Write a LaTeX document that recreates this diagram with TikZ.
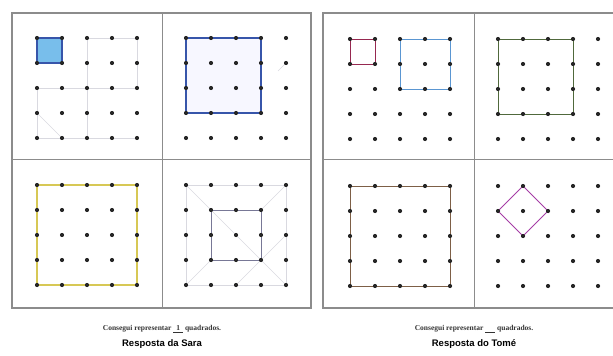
\documentclass[tikz,border=0pt]{standalone}
\usepackage{fontspec}
\setmainfont{Liberation Serif}
\newfontfamily\labelfont{Liberation Sans}
\usetikzlibrary{backgrounds}
\definecolor{penblue}{RGB}{55,85,170}
\definecolor{skyfill}{RGB}{120,190,235}
\definecolor{penyellow}{RGB}{215,200,85}
\definecolor{pengrey}{RGB}{120,120,150}
\definecolor{penpink}{RGB}{150,40,80}
\definecolor{penlight}{RGB}{90,150,210}
\definecolor{pengreen}{RGB}{80,105,60}
\definecolor{penbrown}{RGB}{125,95,70}
\definecolor{penviolet}{RGB}{165,60,165}
\tikzset{
 gdot/.style={circle, fill=black!85, inner sep=0pt, minimum size=4.2pt},
 panel/.style={draw=black!45, line width=1.2pt},
 cellline/.style={draw=black!45, line width=0.8pt},
 pencil/.style={draw=blue!20!black!15, line width=0.5pt},
 caption/.style={font=\fontsize{7.5}{8.5}\selectfont\bfseries, text=black!80},
 answer/.style={font=\labelfont\fontsize{9.5}{11}\selectfont\bfseries},
}
\newcommand{\dotgrid}[3]{%
 \foreach \i in {1,...,5}
  \foreach \j in {1,...,5}
   \node[gdot] (#1-\i-\j) at ({#2+25*(\i-1)},{#3+25*(\j-1)}){};
}
\begin{document}
\begin{tikzpicture}[x=1pt,y=-1pt]
\useasboundingbox (0,0) rectangle (613,356);
\clip (0,0) rectangle (613,356);

\draw[panel] (12,13) rectangle (311,308);
\draw[cellline] (162,13) -- (162,308);
\draw[cellline] (12,159) -- (311,159);
\draw[panel] (323,13) rectangle (625,308);
\draw[cellline] (474,13) -- (474,308);
\draw[cellline] (323,159) -- (625,159);

\dotgrid{sa}{37}{38}
\dotgrid{sb}{186}{38}
\dotgrid{sc}{37}{185}
\dotgrid{sd}{186}{185}
\dotgrid{ta}{350}{39}
\dotgrid{tb}{498}{39}
\dotgrid{tc}{350}{186}
\dotgrid{td}{498}{186}

\begin{scope}[on background layer]
\draw[pencil] (sa-3-1.center) -- (sa-5-1.center) -- (sa-5-3.center);
\draw[pencil] (sa-3-1.center) -- (sa-3-5.center);
\draw[pencil] (sa-1-3.center) -- (sa-5-3.center);
\draw[pencil] (sa-1-3.center) -- (sa-1-5.center) -- (sa-5-5.center);
\draw[pencil] (sa-1-4.center) -- (sa-2-5.center);
\draw[draw=penblue, fill=skyfill, line width=1.1pt] (sa-1-1.center) -- (sa-2-1.center) -- (sa-2-2.center) -- (sa-1-2.center) -- cycle;

\draw[draw=penblue, fill=blue!3, line width=1.3pt] (sb-1-1.center) -- (sb-4-1.center) -- (sb-4-4.center) -- (sb-1-4.center) -- cycle;
\draw[pencil] (sb-5-2.center) -- ++(-8,8);

\draw[draw=penyellow, line width=1.2pt] (sc-1-1.center) -- (sc-5-1.center) -- (sc-5-5.center) -- (sc-1-5.center) -- cycle;

\draw[pencil] (sd-1-1.center) -- (sd-5-1.center) -- (sd-5-5.center) -- (sd-1-5.center) -- cycle;
\draw[pencil] (sd-1-1.center) -- (sd-2-2.center);
\draw[pencil] (sd-5-1.center) -- (sd-4-2.center);
\draw[pencil] (sd-5-5.center) -- (sd-4-4.center);
\draw[pencil] (sd-1-5.center) -- (sd-2-4.center);
\draw[pencil] (sd-5-3.center) -- (sd-3-5.center);
\draw[pencil] (sd-2-2.center) -- (sd-4-4.center);
\draw[draw=pengrey, line width=0.8pt] (sd-2-2.center) -- (sd-4-2.center) -- (sd-4-4.center) -- (sd-2-4.center) -- cycle;

\draw[draw=penpink, line width=0.9pt] (ta-1-1.center) -- (ta-2-1.center) -- (ta-2-2.center) -- (ta-1-2.center) -- cycle;
\draw[draw=penlight, line width=0.9pt] (ta-3-1.center) -- (ta-5-1.center) -- (ta-5-3.center) -- (ta-3-3.center) -- cycle;

\draw[draw=pengreen, line width=0.9pt] (tb-1-1.center) -- (tb-4-1.center) -- (tb-4-4.center) -- (tb-1-4.center) -- cycle;

\draw[draw=penbrown, line width=0.9pt] (tc-1-1.center) -- (tc-5-1.center) -- (tc-5-5.center) -- (tc-1-5.center) -- cycle;

\draw[draw=penviolet, line width=1pt] (td-2-1.center) -- (td-3-2.center) -- (td-2-3.center) -- (td-1-2.center) -- cycle;
\end{scope}

\node[caption] (sarafrase) at (162,329) {Consegui representar \underline{\hspace{3pt}1\hspace{3pt}} quadrados.};
\node[answer] (saranome) at (162,344) {Resposta da Sara};
\node[caption] (tomefrase) at (474,329) {Consegui representar \underline{\hspace{10pt}} quadrados.};
\node[answer] (tomenome) at (474,344) {Resposta do Tomé};
\end{tikzpicture}
\end{document}
